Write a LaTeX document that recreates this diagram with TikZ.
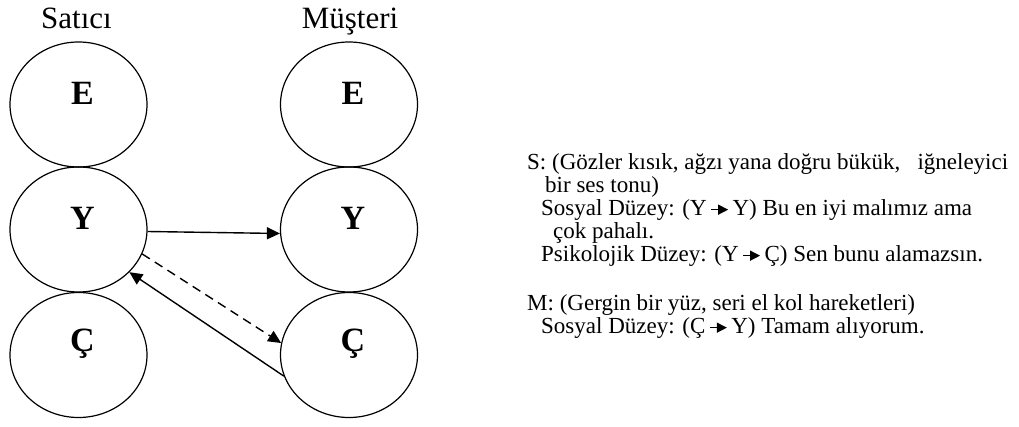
\documentclass[tikz,border=0pt]{standalone}
\usepackage{fontspec}
\setmainfont{Liberation Serif}
\usetikzlibrary{arrows.meta, shapes.geometric}

% small arrow used inside the text lines
\newcommand{\okucuk}{\tikz[baseline=-0.6ex]\draw[line width=1.3pt, -{Triangle[length=10pt,width=10pt]}] (0pt,0pt) -- (17pt,0pt);}

\begin{document}
\begin{tikzpicture}[
        x=1pt, y=-1pt,
        >={Triangle[length=13pt, width=12pt]},
        level/.style={ellipse, draw=black, line width=1.2pt, minimum width=137pt, minimum height=125pt, inner sep=0pt},
        harf/.style={font=\fontsize{34}{34}\selectfont\bfseries, xshift=4pt, yshift=11pt},
        baslik/.style={font=\fontsize{31}{31}\selectfont, anchor=base, inner sep=0pt},
        satir/.style={font=\fontsize{23}{23}\selectfont, anchor=base west, inner sep=0pt},
        transaction/.style={->, line width=1.4pt},
        hidden/.style={->, line width=1.4pt, dash pattern=on 9pt off 6pt}
    ]
    \useasboundingbox (0,0) rectangle (1019,427);

    \node (satici) [baslik] at (76.5,29) {Satıcı};
    \node (musteri) [baslik] at (350,29) {Müşteri};

    \node (sE) [level, label={[harf]center:E}] at (78.5,104.5) {};
    \node (sY) [level, label={[harf]center:Y}] at (78.5,229.5) {};
    \node (sC) [level, label={[harf]center:Ç}] at (78.5,355) {};
    \node (mE) [level, label={[harf]center:E}] at (349,104.5) {};
    \node (mY) [level, label={[harf]center:Y}] at (349,229.5) {};
    \node (mC) [level, label={[harf]center:Ç}] at (349,355) {};

    \draw[transaction] ([yshift=-2pt]sY.east) -- ([yshift=-4pt]mY.west);
    \draw[hidden] (sY.-21) -- (mC.170);
    \draw[transaction] (mC.198) -- (sY.-40);

    \node (s1) [satir] at (527,170) {S: (Gözler kısık, ağzı yana doğru bükük, \ \ iğneleyici};
    \node (s2) [satir] at (545,193) {bir ses tonu)};
    \node (s3) [satir] at (541,216) {Sosyal Düzey: (Y\,\okucuk\,Y) Bu en iyi malımız ama};
    \node (s4) [satir] at (553,239) {çok pahalı.};
    \node (s5) [satir] at (541,262) {Psikolojik Düzey: (Y\,\okucuk\,Ç) Sen bunu alamazsın.};
    \node (m1) [satir] at (527,311) {M: (Gergin bir yüz, seri el kol hareketleri)};
    \node (m2) [satir] at (541,334) {Sosyal Düzey: (Ç\,\okucuk\,Y) Tamam alıyorum.};
\end{tikzpicture}
\end{document}
